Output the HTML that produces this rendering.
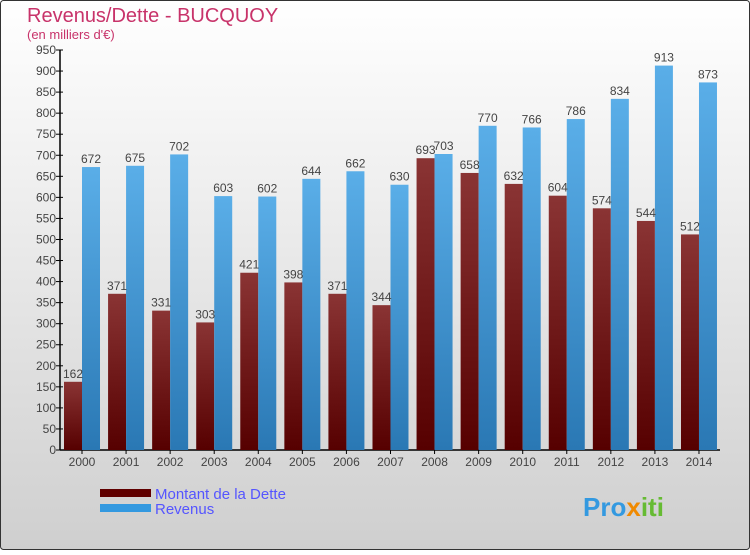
<!DOCTYPE html>
<html><head><meta charset="utf-8"><style>
html,body{margin:0;padding:0;}
body{width:750px;height:550px;overflow:hidden;font-family:"Liberation Sans",sans-serif;}
</style></head><body>
<svg id="chart" width="750" height="550" xmlns="http://www.w3.org/2000/svg">
<defs>
<linearGradient id="bg" x1="0" y1="0" x2="0" y2="1"><stop offset="0" stop-color="#ffffff"/><stop offset="1" stop-color="#cfcfcf"/></linearGradient>
<linearGradient id="gd" x1="0" y1="0" x2="0" y2="1"><stop offset="0" stop-color="#8a3434"/><stop offset="1" stop-color="#560000"/></linearGradient>
<linearGradient id="gr" x1="0" y1="0" x2="0" y2="1"><stop offset="0" stop-color="#5aaee8"/><stop offset="1" stop-color="#2a78b4"/></linearGradient>
</defs>
<rect x="0.5" y="0.5" width="749" height="549" fill="url(#bg)" stroke="#333" rx="3"/>
<text x="27" y="22" font-size="20" fill="#c8336a">Revenus/Dette - BUCQUOY</text>
<text x="27" y="39" font-size="13" fill="#c8336a">(en milliers d'€)</text>
<g id="axes"></g>
<g id="bars"></g>
<rect x="100" y="489" width="51" height="8" fill="#600000"/>
<rect x="100" y="504" width="51" height="8" fill="#3399e0"/>
<text x="155" y="499" font-size="15" fill="#5555ff">Montant de la Dette</text>
<text x="155" y="514" font-size="15" fill="#5555ff">Revenus</text>
<text x="583" y="516" font-size="26" font-weight="bold" fill="#3399e0">Pro<tspan fill="#f08a00">x</tspan><tspan fill="#66bb33">iti</tspan></text>
</svg>
<script>
const years=["2000","2001","2002","2003","2004","2005","2006","2007","2008","2009","2010","2011","2012","2013","2014"];
const dette=[162,371,331,303,421,398,371,344,693,658,632,604,574,544,512];
const revenus=[672,675,702,603,602,644,662,630,703,770,766,786,834,913,873];
const yTicks=[0,50,100,150,200,250,300,350,400,450,500,550,600,650,700,750,800,850,900,950];
const NS="http://www.w3.org/2000/svg";
const y0=450,yTop=50,yMax=950,x0=60,step=44.07,cx0=82,bw=18;
const Y=v=>y0-(v/yMax)*(y0-yTop);
const X=i=>cx0+i*step;
const ax=document.getElementById('axes'),bars=document.getElementById('bars');
function mk(tag,attrs,parent){const e=document.createElementNS(NS,tag);for(const k in attrs)e.setAttribute(k,attrs[k]);parent.appendChild(e);return e;}
let l=mk('line',{x1:x0,y1:yTop,x2:x0,y2:y0,stroke:'#000','stroke-width':1.5},ax);


l=mk('line',{x1:x0,y1:y0,x2:720,y2:y0,stroke:'#000','stroke-width':1.5},ax);


yTicks.forEach(v=>{
 mk('line',{x1:x0-4,y1:Y(v),x2:x0+3,y2:Y(v),stroke:'#000'},ax);
 const t=mk('text',{x:x0-4,y:Y(v)+4,'font-size':12,'text-anchor':'end',fill:'#444'},ax);
 t.textContent=v;
 
 
});
years.forEach((yr,i)=>{
 const cx=X(i);
 mk('line',{x1:cx,y1:y0,x2:cx,y2:y0+4,stroke:'#000'},ax);
 const t=mk('text',{x:cx,y:y0+16,'font-size':12,'text-anchor':'middle',fill:'#444'},ax);
 t.textContent=yr;
 
 
 const bd=mk('rect',{x:cx-bw,y:Y(dette[i]),width:bw,height:y0-Y(dette[i]),fill:'url(#gd)'},bars);
 
 
 const br=mk('rect',{x:cx,y:Y(revenus[i]),width:bw,height:y0-Y(revenus[i]),fill:'url(#gr)'},bars);
 
 
 const ld=mk('text',{x:cx-bw/2,y:Y(dette[i])-4,'font-size':12,'text-anchor':'middle',fill:'#444'},bars);
 ld.textContent=dette[i];
 
 
 const lr=mk('text',{x:cx+bw/2,y:Y(revenus[i])-4,'font-size':12,'text-anchor':'middle',fill:'#444'},bars);
 lr.textContent=revenus[i];
 
 
});
</script>
</body></html>
